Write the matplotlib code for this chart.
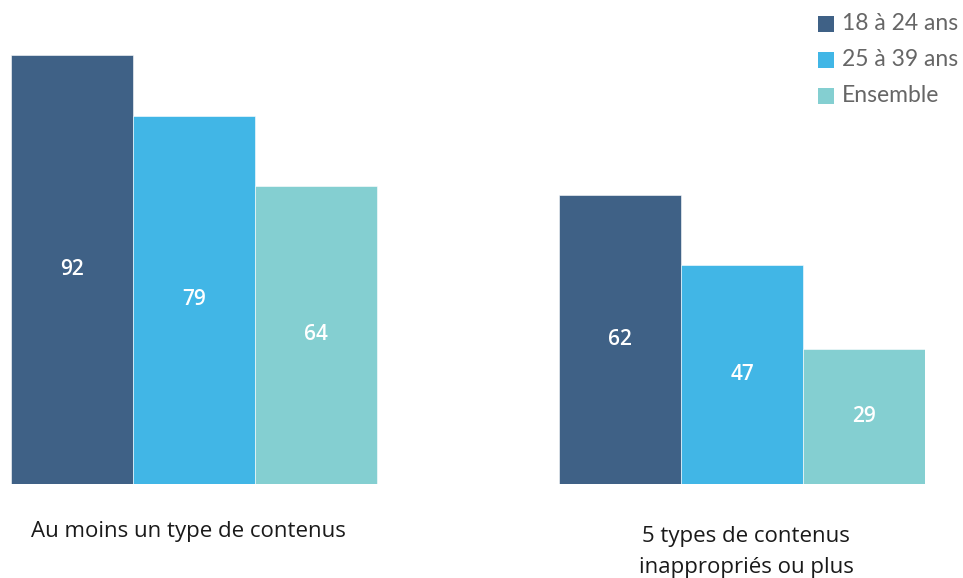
import matplotlib
matplotlib.use("Agg")
import matplotlib.pyplot as plt
from matplotlib.patches import Rectangle
import numpy as np

categories = ["Au moins un type de contenus", "5 types de contenus\ninappropriés ou plus"]
series_names = ["18 à 24 ans", "25 à 39 ans", "Ensemble"]
values_18_24 = [92, 62]
values_25_39 = [79, 47]
values_ensemble = [64, 29]
colors = ["#3F6186", "#41B6E6", "#84CFD1"]

W, H = 963, 578
fig = plt.figure(figsize=(W / 100, H / 100), dpi=100)
ax = fig.add_axes([11 / W, (H - 484) / H, 914 / W, 466 / H])

series = [values_18_24, values_25_39, values_ensemble]
group_pos = np.array([1.0, 5.5])
for i, (name, vals, c) in enumerate(zip(series_names, series, colors)):
    x = group_pos + (i - 1)
    ax.bar(x, vals, width=1.0, color=c, edgecolor="white", linewidth=0.4, label=name)
    for xi, v in zip(x, vals):
        ax.text(xi, v / 2, f"{v}", ha="center", va="center", color="white",
                fontsize=15, fontweight="semibold", family="Open Sans")

ax.set_xlim(-0.5, 7.0)
ax.set_ylim(0, 100)
ax.axis("off")

# category labels
fig.text(188 / W, 1 - 531 / H, categories[0], ha="center", va="center",
         fontsize=16, color="#1a1a1a", family="Open Sans")
fig.text(746 / W, 1 - 552 / H, categories[1], ha="center", va="center",
         fontsize=16, color="#1a1a1a", family="Open Sans", linespacing=1.65)

# legend (manual)
legend_y = [24, 60, 96]
for name, c, yy in zip(series_names, colors, legend_y):
    fig.patches.append(Rectangle((818 / W, 1 - (yy + 8) / H), 16 / W, 16 / H,
                                 transform=fig.transFigure, facecolor=c, edgecolor="none"))
    fig.text(842 / W, 1 - yy / H, name, ha="left", va="center", fontsize=16.5,
             color="#666666", family="Lato")

fig.savefig("out.png", dpi=100)
